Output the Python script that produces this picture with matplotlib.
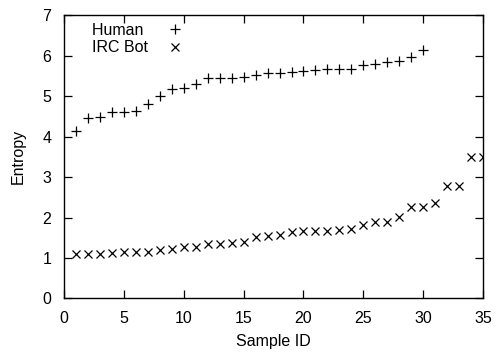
import numpy as np
import matplotlib.pyplot as plt

plt.rcParams['font.family'] = ['Liberation Sans', 'DejaVu Sans']
plt.rcParams['font.size'] = 11.5

# sample ids and entropy values
human_id = np.arange(1, 31)
human = [4.15, 4.46, 4.48, 4.6, 4.6, 4.62, 4.8, 5.0, 5.17, 5.19,
         5.3, 5.44, 5.44, 5.45, 5.46, 5.52, 5.56, 5.58, 5.6, 5.62,
         5.64, 5.66, 5.67, 5.68, 5.76, 5.79, 5.85, 5.87, 5.96, 6.14]

bot_id = np.arange(1, 36)
bot = [1.09, 1.09, 1.1, 1.12, 1.15, 1.15, 1.15, 1.19, 1.23, 1.26,
       1.27, 1.34, 1.35, 1.36, 1.39, 1.53, 1.55, 1.56, 1.64, 1.67,
       1.67, 1.67, 1.69, 1.71, 1.81, 1.9, 1.9, 2.01, 2.25, 2.26,
       2.35, 2.77, 2.77, 3.49, 3.49]

fig = plt.figure(figsize=(4.96, 3.52), dpi=100)
ax = fig.add_axes([0.129, 0.152, 0.845, 0.805])

# trailing space keeps the labels left aligned (same width as "IRC Bot")
ax.plot(human_id, human, '+', color='black', markersize=7, markeredgewidth=0.9,
        label='Human ')
ax.plot(bot_id, bot, 'x', color='black', markersize=6, markeredgewidth=0.9,
        label='IRC Bot')

ax.set_xlim(0, 35)
ax.set_ylim(0, 7)
ax.set_xticks(range(0, 36, 5))
ax.set_yticks(range(0, 8))
ax.tick_params(direction='in', length=6, width=0.9, top=True, right=True, pad=9)
for s in ax.spines.values():
    s.set_linewidth(1.0)

ax.set_xlabel('Sample ID', labelpad=6)
ax.set_ylabel('Entropy', labelpad=12)

ax.legend(loc='upper left', frameon=False, markerfirst=False,
          handletextpad=0.8, borderaxespad=0, labelspacing=0.15,
          handlelength=1.8, bbox_to_anchor=(0.051, 0.995))

fig.savefig('out.png', dpi=100)
